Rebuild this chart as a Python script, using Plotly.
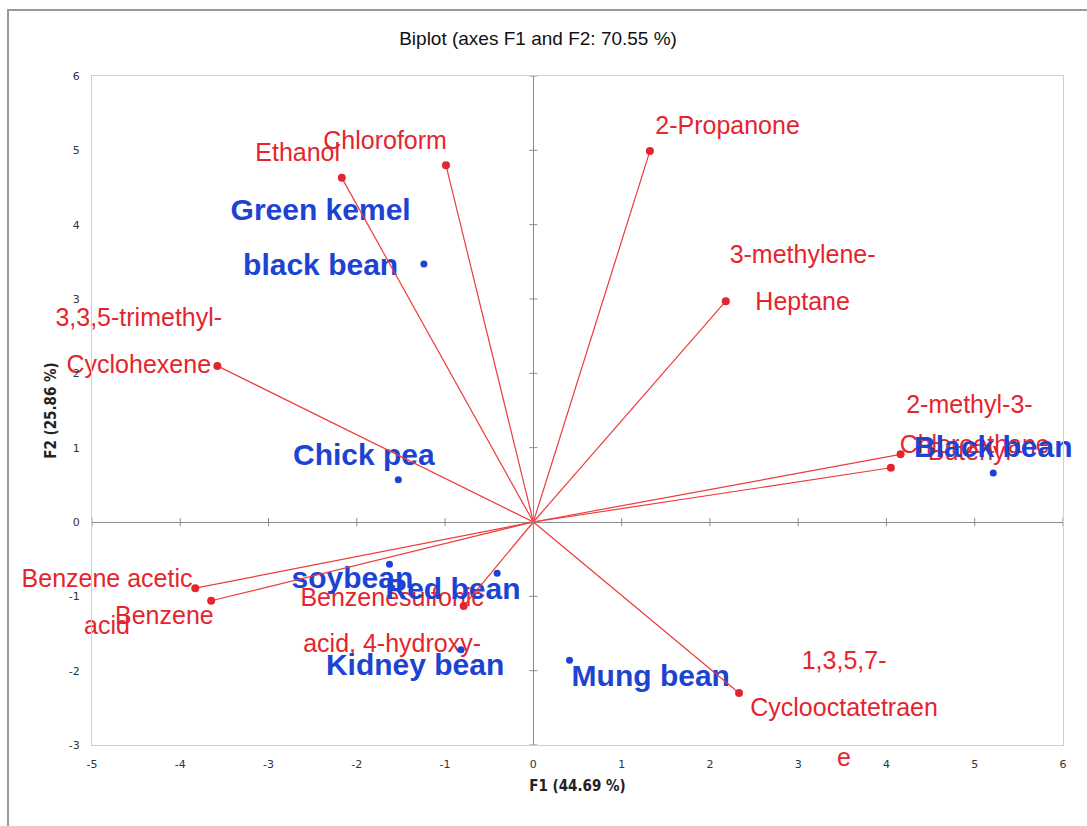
import plotly.graph_objects as go

# ---- PCA biplot data (F1 / F2 coordinates) ----
var_names = ["Ethanol", "Chloroform", "2-Propanone", "3-methylene-Heptane",
             "3,3,5-trimethyl-Cyclohexene", "2-methyl-3-Butenyl", "Chloroethane",
             "Benzene acetic acid", "Benzene", "Benzenesulfonic acid, 4-hydroxy-",
             "1,3,5,7-Cyclooctatetraene"]
var_f1 = [-2.17, -0.99, 1.32, 2.18, -3.58, 4.16, 4.05, -3.83, -3.65, -0.79, 2.33]
var_f2 = [4.63, 4.80, 4.99, 2.97, 2.10, 0.91, 0.73, -0.89, -1.06, -1.13, -2.30]
# wrapped label text, one entry per drawn line
var_label_lines = [["Ethanol"], ["Chloroform"], ["2-Propanone"],
                   ["3-methylene-", "Heptane"], ["3,3,5-trimethyl-", "Cyclohexene"],
                   ["2-methyl-3-", "Butenyl"], ["Chloroethane"],
                   ["Benzene acetic", "acid"], ["Benzene"],
                   ["Benzenesulfonic", "acid, 4-hydroxy-"],
                   ["1,3,5,7-", "Cyclooctatetraen", "e"]]

obs_names = ["Green kemel black bean", "Chick pea", "Black bean", "soybean",
             "Red bean", "Kidney bean", "Mung bean"]
obs_f1 = [-1.24, -1.53, 5.21, -1.63, -0.41, -0.82, 0.41]
obs_f2 = [3.47, 0.57, 0.66, -0.57, -0.69, -1.72, -1.86]
obs_label_lines = [["Green kemel", "black bean"], ["Chick pea"], ["Black bean"],
                   ["soybean"], ["Red bean"], ["Kidney bean"], ["Mung bean"]]

x_ticks = [-5, -4, -3, -2, -1, 0, 1, 2, 3, 4, 5, 6]
y_ticks = [-3, -2, -1, 0, 1, 2, 3, 4, 5, 6]
X_RANGE = [-5, 6]
Y_RANGE = [-3, 6]

# ---- label placement (centre of first line, in axis units) ----
var_label_pos = [(-2.67, 4.94), (-1.68, 5.10), (2.20, 5.30), (3.05, 3.57),
                 (-4.47, 2.72), (4.94, 1.55), (5.00, 1.01), (-4.83, -0.79),
                 (-4.18, -1.29), (-1.60, -1.04), (3.52, -1.90)]
obs_label_pos = [(-2.41, 4.16), (-1.92, 0.87), (5.21, 0.97), (-2.05, -0.79),
                 (-0.91, -0.94), (-1.34, -1.96), (1.33, -2.10)]
var_line_gap = 0.63
obs_line_gap = 0.73

RED = "#e5252d"
LINE_RED = "#ee3b3b"
BLUE = "#1c43d2"
FONT = "Liberation Sans, Arial, sans-serif"
VAR_FONT = dict(family=FONT, size=25, color=RED)
OBS_FONT = dict(family=FONT, size=30, color=BLUE, weight="bold")


def label_points(positions, lines, gap):
    xs, ys, ts = [], [], []
    for (lx, ly), rows in zip(positions, lines):
        for i, row in enumerate(rows):
            xs.append(lx)
            ys.append(ly - i * gap)
            ts.append(row)
    return xs, ys, ts


def inside(x, y):
    return X_RANGE[0] <= x <= X_RANGE[1] and Y_RANGE[0] <= y <= Y_RANGE[1]


def to_paper(v, rng):
    return (v - rng[0]) / (rng[1] - rng[0])


fig = go.Figure()
annotations = []


def add_labels(xs, ys, ts, font):
    # rows inside the frame are a text trace (so vectors draw over them);
    # rows that spill past the frame become paper-anchored annotations
    keep = [(x, y, t) for x, y, t in zip(xs, ys, ts) if inside(x, y)]
    spill = [(x, y, t) for x, y, t in zip(xs, ys, ts) if not inside(x, y)]
    fig.add_trace(go.Scatter(x=[k[0] for k in keep], y=[k[1] for k in keep],
                             text=[k[2] for k in keep], mode="text",
                             textposition="middle center", textfont=font,
                             cliponaxis=False, hoverinfo="skip", showlegend=False))
    for x, y, t in spill:
        annotations.append(dict(x=to_paper(x, X_RANGE), y=to_paper(y, Y_RANGE),
                                xref="paper", yref="paper", text=t, showarrow=False,
                                xanchor="center", yanchor="middle", font=font))


add_labels(*label_points(var_label_pos, var_label_lines, var_line_gap), VAR_FONT)
add_labels(*label_points(obs_label_pos, obs_label_lines, obs_line_gap), OBS_FONT)

# loading vectors from the origin
lx, ly = [], []
for a, b in zip(var_f1, var_f2):
    lx += [0, a, None]
    ly += [0, b, None]
fig.add_trace(go.Scatter(x=lx, y=ly, mode="lines", line=dict(color=LINE_RED, width=1.2),
                         hoverinfo="skip", showlegend=False))

fig.add_trace(go.Scatter(x=var_f1, y=var_f2, mode="markers", text=var_names,
                         marker=dict(color=RED, size=8), name="Variables", showlegend=False))
fig.add_trace(go.Scatter(x=obs_f1, y=obs_f2, mode="markers", text=obs_names,
                         marker=dict(color=BLUE, size=7), name="Observations", showlegend=False))

# small crossing ticks on the zero lines
shapes = []
for t in y_ticks:
    shapes.append(dict(type="line", xref="x", yref="y", xsizemode="pixel", xanchor=0,
                       x0=-4, x1=4, y0=t, y1=t, line=dict(color="#8c8c8c", width=1)))
for t in x_ticks:
    shapes.append(dict(type="line", xref="x", yref="y", ysizemode="pixel", yanchor=0,
                       y0=-4, y1=4, x0=t, x1=t, line=dict(color="#8c8c8c", width=1)))
# outer chart border
shapes.append(dict(type="rect", xref="paper", yref="paper", x0=-0.0865, x1=1.04,
                   y0=-0.13, y1=1.0987, line=dict(color="#9a9a9a", width=2),
                   fillcolor="rgba(0,0,0,0)", layer="below"))

axis_common = dict(showgrid=False, zeroline=True, zerolinecolor="#8c8c8c", zerolinewidth=1,
                   showline=True, linecolor="#cfcfcf", linewidth=1, mirror=True,
                   ticks="", tickfont=dict(family="DejaVu Sans, sans-serif", size=11, color="#333"),
                   ticklabelstandoff=9)
title_font = dict(family="DejaVu Sans Condensed, DejaVu Sans", size=15, color="#222")

fig.update_layout(
    width=1087, height=826,
    margin=dict(l=92, r=24, t=76, b=81),
    paper_bgcolor="white", plot_bgcolor="white",
    title=dict(text="Biplot (axes F1 and F2: 70.55 %)", x=0.495, xanchor="center",
               y=0.953, yanchor="middle",
               font=dict(family="Liberation Sans, Arial", size=19, color="#111")),
    xaxis=dict(range=X_RANGE, tickvals=x_ticks, ticktext=[str(t) for t in x_ticks],
               **axis_common,
               title=dict(text="<b>F1 (44.69 %)</b>", standoff=10, font=title_font)),
    yaxis=dict(range=Y_RANGE, tickvals=y_ticks, ticktext=[str(t) for t in y_ticks],
               **axis_common,
               title=dict(text="<b>F2 (25.86 %)</b>", standoff=8, font=title_font)),
    shapes=shapes,
    annotations=annotations,
)

fig.write_html("out.html")
